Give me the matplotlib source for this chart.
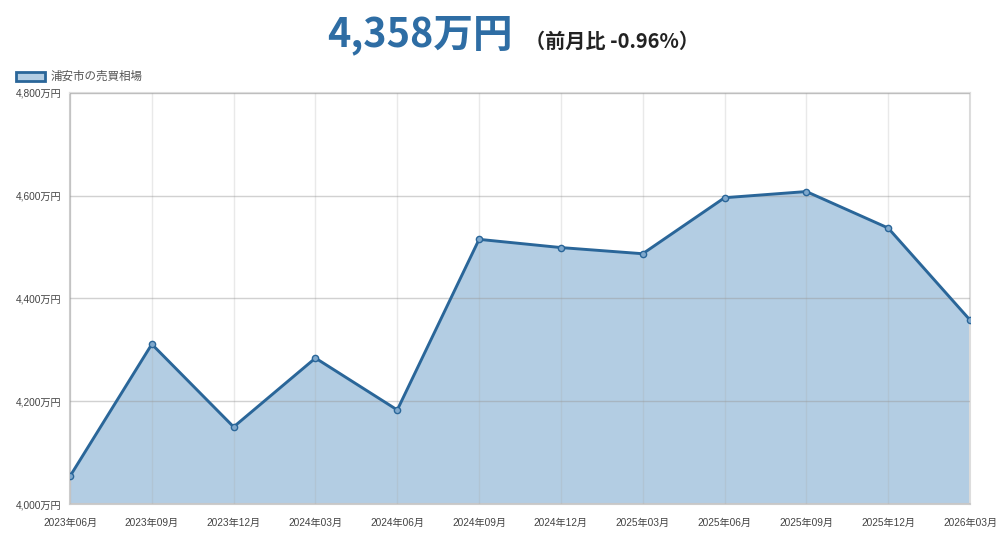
import matplotlib
matplotlib.use("Agg")
import matplotlib.pyplot as plt
from matplotlib.patches import Rectangle

plt.rcParams['font.family'] = ['Noto Sans CJK JP', 'DejaVu Sans']

# data
months = ["2023年06月", "2023年09月", "2023年12月", "2024年03月",
          "2024年06月", "2024年09月", "2024年12月", "2025年03月",
          "2025年06月", "2025年09月", "2025年12月", "2026年03月"]
prices = [4054, 4311, 4150, 4284, 4183, 4515, 4499, 4487,
          4596, 4608, 4537, 4358]
y_ticks = [4000, 4200, 4400, 4600, 4800]
y_labels = ["4,000万円", "4,200万円", "4,400万円", "4,600万円", "4,800万円"]
series_name = "浦安市の売買相場"
headline = "4,358万円"
change_text = "（前月比 -0.96%）"

line_color = "#2a6699"
fill_color = "#b3cde3"
tick_font = ['Liberation Sans', 'Noto Sans CJK JP']

fig = plt.figure(figsize=(10, 5.36), dpi=100)
ax = fig.add_axes([0.07, 0.0597, 0.90, 0.767])

x = list(range(len(months)))
ax.fill_between(x, prices, 4000, color=fill_color, zorder=1, linewidth=0)
ax.plot(x, prices, color=line_color, linewidth=2.1, zorder=3,
        marker='o', markersize=4.5, markerfacecolor="#7fa8cc",
        markeredgecolor=line_color, markeredgewidth=1)

ax.set_xlim(0, len(months) - 1)
ax.set_ylim(4000, 4800)
ax.set_xticks(x)
ax.set_xticklabels(months, fontsize=7.3, color="#444444", family=tick_font)
ax.set_yticks(y_ticks)
ax.set_yticklabels(y_labels, fontsize=7.3, color="#444444", family=tick_font)
ax.tick_params(axis='x', length=0, pad=10)
ax.tick_params(axis='y', length=0, pad=6)

ax.set_axisbelow(False)
ax.yaxis.grid(True, color="#999999", alpha=0.45, linewidth=1)
ax.xaxis.grid(True, color="#aaaaaa", alpha=0.25, linewidth=1)

for side in ["left", "bottom"]:
    ax.spines[side].set_color("#cccccc")
    ax.spines[side].set_linewidth(1.5)
for side in ["top", "right"]:
    ax.spines[side].set_color("#dddddd")
    ax.spines[side].set_linewidth(1.5)

# headline
fig.text(0.513, 0.935, headline, ha='right', va='center', fontsize=28.5,
         fontweight='bold', color="#2e6da4")
fig.text(0.525, 0.922, change_text, ha='left', va='center', fontsize=14.5,
         fontweight='bold', color="#222222")

# legend
fig.patches.append(Rectangle((0.016, 0.848), 0.029, 0.018, transform=fig.transFigure,
                             facecolor=fill_color, edgecolor=line_color,
                             linewidth=2))
fig.text(0.051, 0.857, series_name, ha='left', va='center', fontsize=8.3,
         color="#555555")

fig.savefig("out.png", dpi=100)
